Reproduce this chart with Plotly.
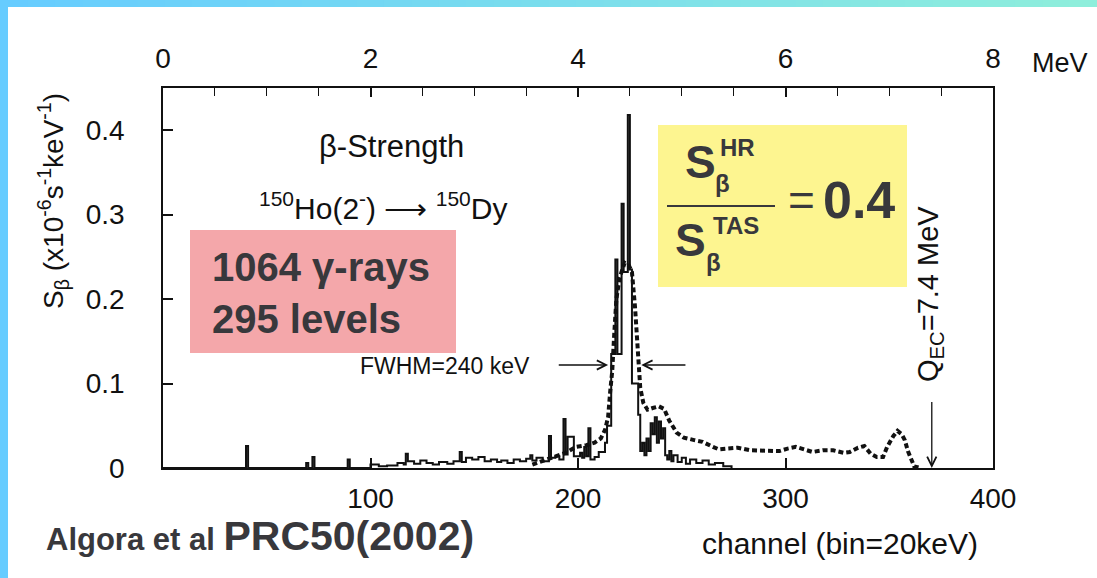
import plotly.graph_objects as go

# ---------------- data ----------------
# High-resolution beta strength histogram: bin start channel -> value (step function)
hr_channel = [0, 40, 41, 69, 70, 72, 73, 89, 90, 100, 104, 108, 113, 116, 117, 118, 121, 124, 127,
              130, 133, 137, 140, 143, 144, 146, 149, 152, 155, 158, 161, 163, 166, 169, 172, 175,
              177, 178, 180, 183, 186, 187, 189, 191, 193, 194, 195, 198, 201, 202, 203, 204, 205,
              206, 208, 210, 213, 214, 216, 218, 219, 221, 222, 224, 225, 226, 229, 230, 231, 232,
              233, 234, 235, 236, 237, 238, 239, 240, 241, 242, 243, 244, 245, 246, 248, 250, 252,
              254, 257, 260, 263, 266, 270, 274]
hr_value = [0.0, 0.026, 0.0, 0.006, 0.0, 0.013, 0.0, 0.010, 0.0, 0.004, 0.002, 0.003, 0.006, 0.004, 0.017,
            0.008, 0.005, 0.009, 0.006, 0.004, 0.007, 0.005, 0.008, 0.019, 0.007, 0.012, 0.010, 0.013,
            0.008, 0.010, 0.007, 0.009, 0.006, 0.010, 0.008, 0.011, 0.015, 0.009, 0.012, 0.008, 0.038,
            0.012, 0.014, 0.010, 0.058, 0.016, 0.037, 0.014, 0.018, 0.012, 0.025, 0.014, 0.047,
            0.010, 0.013, 0.019, 0.030, 0.050, 0.135, 0.247, 0.135, 0.313, 0.232, 0.418, 0.235,
            0.100, 0.063, 0.020, 0.030, 0.015, 0.035, 0.020, 0.053, 0.040, 0.060, 0.030, 0.055,
            0.035, 0.047, 0.015, 0.010, 0.020, 0.008, 0.015, 0.007, 0.012, 0.005, 0.010, 0.006,
            0.009, 0.004, 0.006, 0.002, 0.0]

# Total absorption spectroscopy (dashed curve)
tas_channel = [178, 184, 188, 194, 199, 204, 208, 211, 213, 214.5, 215.5, 216.5, 217.5, 218.5, 220,
               222.5, 224.5, 226, 227.5, 228.4, 229.3, 230, 231.5, 233.5, 236, 239, 241.5, 244,
               247.5, 251, 256, 260, 265, 268, 272, 277, 283, 290, 297, 301, 305, 309, 313, 318,
               323, 328, 331, 335, 338, 341, 344, 347, 349, 352, 354, 356, 357.5, 359, 360.5, 362, 365]
tas_value = [0.004, 0.009, 0.012, 0.018, 0.025, 0.027, 0.030, 0.035, 0.045, 0.060, 0.090, 0.115, 0.160,
             0.200, 0.225, 0.243, 0.240, 0.232, 0.190, 0.160, 0.125, 0.095, 0.077, 0.069, 0.071, 0.073,
             0.070, 0.056, 0.042, 0.036, 0.033, 0.031, 0.025, 0.022, 0.023, 0.024, 0.021, 0.020, 0.020,
             0.023, 0.025, 0.022, 0.019, 0.021, 0.021, 0.018, 0.019, 0.024, 0.026, 0.017, 0.013, 0.013,
             0.025, 0.038, 0.044, 0.040, 0.033, 0.020, 0.010, 0.002, 0.0]

channel_tickvals = [100, 200, 300, 400]
channel_ticktext = ["100", "200", "300", "400"]
mev_tickvals = [0, 2, 4, 6, 8]
mev_ticktext = ["0", "2", "4", "6", "8"]
y_tickvals = [0, 0.1, 0.2, 0.3, 0.4]
y_ticktext = ["0", "0.1", "0.2", "0.3", "0.4"]

fwhm_left = [190, 214.5]     # channel tail / head
fwhm_right = [252.5, 230.5]
fwhm_level = 0.122
q_ec_channel = 370.5         # 7.4 MeV / 20 keV

# ---------------- layout helpers ----------------
W, H = 1097, 578
L, R, T, B = 163, 104, 88, 110
PW, PH = W - L - R, H - T - B


def px(x):
    return (x - L) / PW


def py(y):
    return (H - B - y) / PH


FONT = "Liberation Sans, Arial, Helvetica, sans-serif"
INK = "#111111"
SLIDE = "#38383c"

fig = go.Figure()

fig.add_trace(go.Scatter(
    x=hr_channel, y=hr_value, mode="lines", line=dict(color=INK, width=2.0, shape="hv"),
    showlegend=False, hoverinfo="skip"))
fig.add_trace(go.Scatter(
    x=tas_channel, y=tas_value, mode="lines", line=dict(color=INK, width=4, dash="5px,3px"),
    showlegend=False, hoverinfo="skip"))
# invisible trace carrying the MeV axis
fig.add_trace(go.Scatter(
    x=mev_tickvals, y=[None] * len(mev_tickvals), xaxis="x2", mode="lines",
    showlegend=False, hoverinfo="skip"))

axis_common = dict(showgrid=False, zeroline=False, showline=True, linecolor=INK, linewidth=1.5,
                   ticks="inside", tickcolor=INK, tickwidth=1.5,
                   tickfont=dict(family=FONT, size=28, color=INK))

fig.update_layout(
    width=W, height=H,
    margin=dict(l=L, r=R, t=T, b=B, pad=0),
    paper_bgcolor="white", plot_bgcolor="white",
    xaxis=dict(range=[0, 400], tickvals=channel_tickvals, ticktext=channel_ticktext,
               ticklen=10, mirror=True, ticklabelstandoff=5, **axis_common),
    xaxis2=dict(range=[0, 8], overlaying="x", side="top", anchor="y",
                tickvals=mev_tickvals, ticktext=mev_ticktext, ticklen=9,
                minor=dict(dtick=0.5, ticks="inside", ticklen=8, tickcolor=INK, tickwidth=1.3),
                ticklabelstandoff=7, **axis_common),
    yaxis=dict(range=[0, 0.45], tickvals=y_tickvals, ticktext=y_ticktext, ticklen=10,
               mirror=True, ticklabelstandoff=31, **axis_common),
)

shapes = []
# slide frame: left strip and gradient top strip
shapes.append(dict(type="rect", xref="paper", yref="paper", x0=px(0), x1=px(8), y0=py(H), y1=py(0),
                   fillcolor="#66ccff", line=dict(width=0), layer="above"))
c0 = (102, 204, 255)
c1 = (142, 238, 219)
nseg = 40
for i in range(nseg):
    t = i / (nseg - 1)
    col = "rgb(%d,%d,%d)" % tuple(round(a + (b - a) * t) for a, b in zip(c0, c1))
    shapes.append(dict(type="rect", xref="paper", yref="paper",
                       x0=px(W * i / nseg), x1=px(W * (i + 1) / nseg + 1), y0=py(7), y1=py(0),
                       fillcolor=col, line=dict(width=0), layer="above"))
# pink and yellow boxes
shapes.append(dict(type="rect", xref="paper", yref="paper", x0=px(190), x1=px(456), y0=py(353), y1=py(230),
                   fillcolor="#f4a7aa", line=dict(width=0), layer="above"))
shapes.append(dict(type="rect", xref="paper", yref="paper", x0=px(658), x1=px(907), y0=py(287), y1=py(125),
                   fillcolor="#fdf590", line=dict(width=0), layer="above"))
# fraction bar
shapes.append(dict(type="line", xref="paper", yref="paper", x0=px(667), x1=px(775), y0=py(206), y1=py(206),
                   line=dict(color=SLIDE, width=2.2), layer="above"))
fig.update_layout(shapes=shapes)

ann = []


def text(x, y, s, size, color=INK, xanchor="center", yanchor="middle", angle=0, align="center"):
    ann.append(dict(xref="paper", yref="paper", x=px(x), y=py(y), text=s, showarrow=False,
                    xanchor=xanchor, yanchor=yanchor, textangle=angle, align=align,
                    font=dict(family=FONT, size=size, color=color)))


text(1060, 63, "MeV", 27)
text(53, 201, "S<sub>β</sub> (x10<sup>-6</sup>s<sup>-1</sup>keV<sup>-1</sup>)", 28, angle=-90)
text(391, 146, "β-Strength", 31)
text(383, 206, "<sup>150</sup>Ho(2<sup>-</sup>) ⟶ <sup>150</sup>Dy", 30)
text(532, 366, "FWHM=240 keV", 23, xanchor="right")
text(930, 294, "Q<sub>EC</sub>=7.4 MeV", 29, angle=-90)
text(840, 543, "channel (bin=20keV)", 30)
text(44, 561, "<b>Algora et al <span style='font-size:41px'>PRC50(2002)</span></b>", 31,
     color=SLIDE, xanchor="left", yanchor="bottom")
text(210, 293, "<b>1064 γ-rays<br>295 levels</b>", 40, color=SLIDE, xanchor="left", align="left")
# ratio S_beta^HR / S_beta^TAS = 0.4
text(700, 162, "<b>S</b>", 46, color=SLIDE)
text(737, 147, "<b>HR</b>", 24, color=SLIDE)
text(722, 183, "<b>β</b>", 24, color=SLIDE)
text(690, 240, "<b>S</b>", 46, color=SLIDE)
text(736, 225, "<b>TAS</b>", 24, color=SLIDE)
text(713, 262, "<b>β</b>", 24, color=SLIDE)
text(801, 200, "=", 46, color=SLIDE)
text(859, 200, "<b>0.4</b>", 52, color=SLIDE)

# arrows (FWHM marks and Q_EC)
arrow_style = dict(showarrow=True, arrowhead=5, arrowsize=1.4, arrowwidth=1.3, arrowcolor=INK,
                   xref="x", yref="y", axref="x", ayref="y", text="")
ann.append(dict(x=fwhm_left[1], y=fwhm_level, ax=fwhm_left[0], ay=fwhm_level, **arrow_style))
ann.append(dict(x=fwhm_right[1], y=fwhm_level, ax=fwhm_right[0], ay=fwhm_level, **arrow_style))
ann.append(dict(x=q_ec_channel, y=0, ax=q_ec_channel, ay=0.08, **arrow_style))

fig.update_layout(annotations=ann)

fig.write_html("out.html", config={"displayModeBar": False},
               post_script="document.body.style.margin='0';document.body.style.overflow='hidden';")
